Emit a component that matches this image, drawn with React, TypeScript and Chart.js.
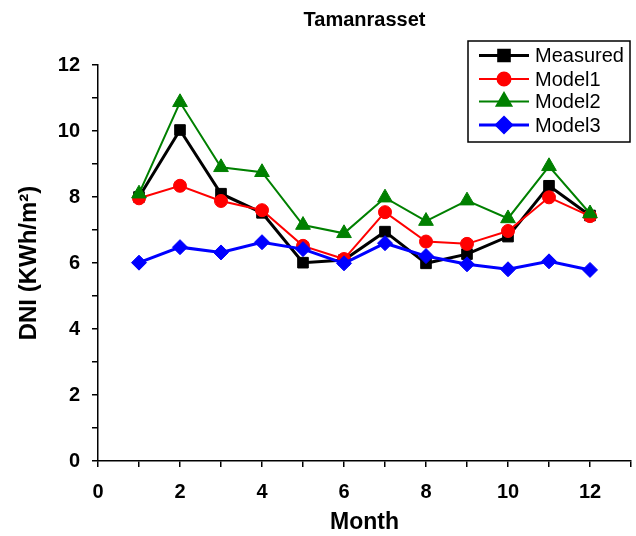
import React, { useEffect, useRef } from "react";
import { Chart, registerables } from "chart.js";

Chart.register(...registerables);

const months = [1, 2, 3, 4, 5, 6, 7, 8, 9, 10, 11, 12];
const measured = [8.0, 10.03, 8.1, 7.52, 6.01, 6.09, 6.95, 5.99, 6.27, 6.8, 8.34, 7.44];
const model1 = [7.96, 8.34, 7.88, 7.6, 6.52, 6.12, 7.54, 6.65, 6.58, 6.97, 7.99, 7.42];
const model2 = [8.1, 10.87, 8.9, 8.75, 7.15, 6.9, 7.98, 7.27, 7.89, 7.35, 8.93, 7.5];
const model3 = [6.01, 6.48, 6.32, 6.63, 6.42, 5.99, 6.6, 6.21, 5.96, 5.81, 6.05, 5.79];
const seriesNames = ["Measured", "Model1", "Model2", "Model3"];
const chartTitle = "Tamanrasset";
const xTitle = "Month";
const yTitle = "DNI (KWh/m\u00B2)";

const FONT = "'Liberation Sans', Arial, sans-serif";

function drawMarker(ctx: CanvasRenderingContext2D, style: string, x: number, y: number, r: number, color: string) {
  ctx.save();
  ctx.fillStyle = color;
  ctx.strokeStyle = color;
  ctx.beginPath();
  if (style === "rect") {
    const s = r * Math.SQRT1_2;
    ctx.rect(x - s, y - s, 2 * s, 2 * s);
  } else if (style === "circle") {
    ctx.arc(x, y, r, 0, Math.PI * 2);
  } else if (style === "triangle") {
    ctx.moveTo(x, y - r);
    ctx.lineTo(x + r * Math.cos(Math.PI / 6), y + r / 2);
    ctx.lineTo(x - r * Math.cos(Math.PI / 6), y + r / 2);
    ctx.closePath();
  } else {
    ctx.moveTo(x, y - r);
    ctx.lineTo(x + r, y);
    ctx.lineTo(x, y + r);
    ctx.lineTo(x - r, y);
    ctx.closePath();
  }
  ctx.fill();
  ctx.stroke();
  ctx.restore();
}

const overlayPlugin = {
  id: "overlay",
  afterDraw(chart: any) {
    const ctx: CanvasRenderingContext2D = chart.ctx;
    const area = chart.chartArea;
    // Title
    ctx.save();
    ctx.fillStyle = "#000";
    ctx.font = `bold 20px ${FONT}`;
    ctx.textAlign = "center";
    ctx.textBaseline = "middle";
    ctx.fillText(chartTitle, (area.left + area.right) / 2, 20);
    ctx.restore();

    // Legend
    const bx = 468, by = 41, bw = 162, bh = 101;
    ctx.save();
    ctx.fillStyle = "#fff";
    ctx.fillRect(bx, by, bw, bh);
    ctx.strokeStyle = "#000";
    ctx.lineWidth = 1.5;
    ctx.strokeRect(bx, by, bw, bh);
    const rows = [55.5, 79, 101.5, 125];
    chart.data.datasets.forEach((ds: any, i: number) => {
      const y = rows[i];
      ctx.strokeStyle = ds.borderColor;
      ctx.lineWidth = ds.borderWidth;
      ctx.beginPath();
      ctx.moveTo(479, y);
      ctx.lineTo(529, y);
      ctx.stroke();
      drawMarker(ctx, ds.pointStyle, 504, y, ds.pointRadius, ds.borderColor);
      ctx.fillStyle = "#000";
      ctx.font = `20px ${FONT}`;
      ctx.textAlign = "left";
      ctx.textBaseline = "middle";
      ctx.fillText(ds.label, 535, y + 1);
    });
    ctx.restore();
  },
};

export default function App() {
  const ref = useRef<HTMLCanvasElement | null>(null);
  useEffect(() => {
    document.body.style.margin = "0";
    const toPts = (arr: number[]) => months.map((m, i) => ({ x: m, y: arr[i] }));
    const colors = ["#000000", "#ff0000", "#008000", "#0000ff"];
    const styles = ["rect", "circle", "triangle", "rectRot"];
    const radii = [7.5, 6.5, 8.5, 7.5];
    const widths = [3, 2, 2, 3];
    const data = [measured, model1, model2, model3];
    const chart = new Chart(ref.current as HTMLCanvasElement, {
      type: "line",
      data: {
        datasets: data.map((arr, i) => ({
          label: seriesNames[i],
          data: toPts(arr),
          borderColor: colors[i],
          backgroundColor: colors[i],
          pointBackgroundColor: colors[i],
          pointBorderColor: colors[i],
          borderWidth: widths[i],
          pointBorderWidth: 1,
          pointStyle: styles[i],
          pointRadius: radii[i],
          tension: 0,
          order: 3 - i,
        })),
      },
      options: {
        responsive: false,
        animation: false,
        devicePixelRatio: 1,
        layout: { autoPadding: false, padding: { top: 65, right: 5, left: 0, bottom: 0 } },
        plugins: {
          legend: { display: false },
          title: { display: false },
          tooltip: { enabled: false },
        },
        scales: {
          x: {
            type: "linear",
            min: 0,
            max: 13,
            afterFit: (s: any) => {
              s.height = 75;
              s.paddingLeft = 0;
              s.paddingRight = 0;
            },
            border: { display: true, color: "#000", width: 1.5 },
            grid: { drawOnChartArea: false, drawTicks: true, tickLength: 6, color: "#000", lineWidth: 1.5 },
            ticks: {
              stepSize: 1,
              autoSkip: false,
              maxRotation: 0,
              padding: 13,
              color: "#000",
              font: { family: FONT, size: 20, weight: "bold" },
              callback: (v: any) => (v % 2 === 0 && v <= 12 ? String(v) : ""),
            },
            title: {
              display: true,
              text: xTitle,
              color: "#000",
              font: { family: FONT, size: 23, weight: "bold" },
              padding: 0,
            },
          },
          y: {
            min: 0,
            max: 12,
            afterFit: (s: any) => {
              s.width = 98;
              s.paddingTop = 0;
              s.paddingBottom = 0;
            },
            border: { display: true, color: "#000", width: 1.5 },
            grid: { drawOnChartArea: false, drawTicks: true, tickLength: 6, color: "#000", lineWidth: 1.5 },
            ticks: {
              stepSize: 1,
              autoSkip: false,
              padding: 12,
              color: "#000",
              font: { family: FONT, size: 20, weight: "bold" },
              callback: (v: any) => (v % 2 === 0 ? String(v) : ""),
            },
            title: {
              display: true,
              text: yTitle,
              color: "#000",
              font: { family: FONT, size: 24, weight: "bold" },
              padding: { top: 15, bottom: 0 },
            },
          },
        },
      },
      plugins: [overlayPlugin],
    });
    return () => chart.destroy();
  }, []);
  return (
    <div style={{ position: "absolute", left: 0, top: 0, width: 636, height: 536 }}>
      <canvas ref={ref} width={636} height={536} style={{ width: 636, height: 536 }} />
    </div>
  );
}
